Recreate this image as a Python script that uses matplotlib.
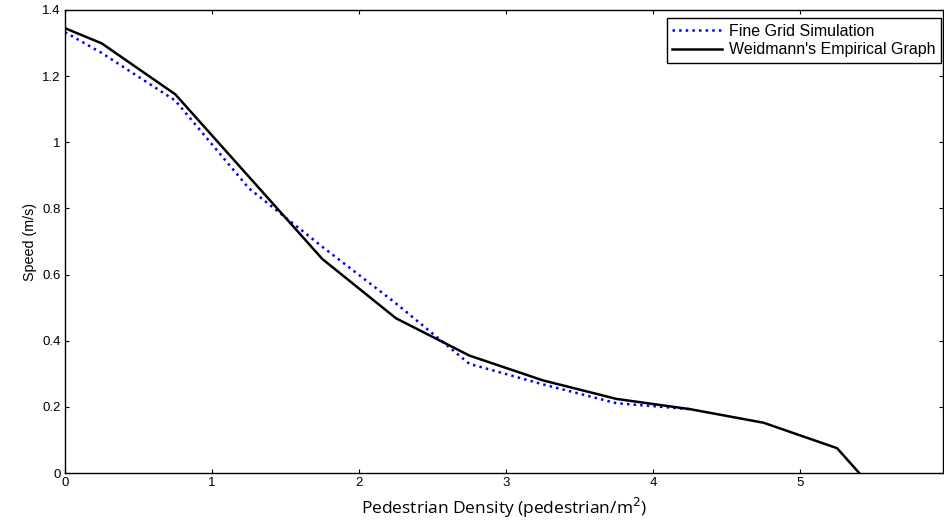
import numpy as np
import matplotlib.pyplot as plt

# ---- Data ----
sim_density = [0, 0.25, 0.75, 1.25, 1.75, 2.25, 2.75, 3.25, 3.75, 4.25]
sim_speed = [1.333, 1.27, 1.126, 0.861, 0.684, 0.513, 0.330, 0.268, 0.211, 0.193]

emp_density = [0, 0.25, 0.75, 1.75, 2.25, 2.75, 3.25, 3.75, 4.25, 4.75, 5.25, 5.40]
emp_speed = [1.345, 1.299, 1.145, 0.647, 0.468, 0.355, 0.280, 0.224, 0.193, 0.152, 0.075, 0.0]

x_ticks = [0, 1, 2, 3, 4, 5]
y_ticks = [0, 0.2, 0.4, 0.6, 0.8, 1, 1.2, 1.4]
y_tick_labels = ["0", "0.2", "0.4", "0.6", "0.8", "1", "1.2", "1.4"]

# ---- Plot ----
plt.rcParams['font.family'] = ['Liberation Sans', 'DejaVu Sans']

fig = plt.figure(figsize=(9.44, 5.24), dpi=100)
ax = fig.add_axes([65 / 944, 51 / 524, 878 / 944, 463 / 524])

ax.plot(sim_density, sim_speed, color='blue', linestyle=':', linewidth=1.8,
        label='Fine Grid Simulation')
ax.plot(emp_density, emp_speed, color='black', linestyle='-', linewidth=1.8,
        label="Weidmann's Empirical Graph")

ax.set_xlim(0, 5.97)
ax.set_ylim(0, 1.4)
ax.set_xticks(x_ticks)
ax.set_yticks(y_ticks)
ax.set_yticklabels(y_tick_labels)
ax.tick_params(direction='in', length=3, width=0.8, top=True, right=True,
               labelsize=9.5, pad=3)
for s in ax.spines.values():
    s.set_linewidth(1.0)

ax.set_xlabel("Pedestrian Density (pedestrian/m$^2$)", fontsize=12.5,
              family=['Open Sans', 'DejaVu Sans'], labelpad=5)
ax.set_ylabel("Speed (m/s)", fontsize=10.3, labelpad=4)

leg = ax.legend(loc='upper right', bbox_to_anchor=(0.9977, 0.982),
                fontsize=11.5, frameon=True, fancybox=False,
                edgecolor='black', borderaxespad=0, handlelength=3.1,
                borderpad=0.35, labelspacing=0.22, handletextpad=0.45)
leg.get_frame().set_linewidth(1.0)
leg.get_frame().set_alpha(1)

fig.savefig("out.png", dpi=100)
